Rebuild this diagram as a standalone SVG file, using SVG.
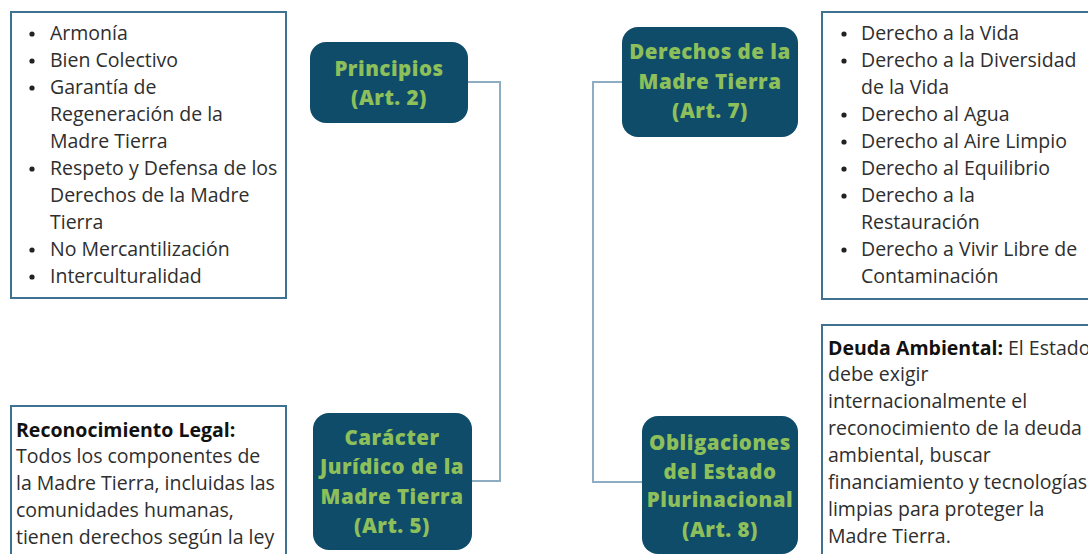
<svg xmlns="http://www.w3.org/2000/svg" width="1088" height="554" viewBox="0 0 1088 554">
<style>
.box{fill:#fff;stroke:#3f7191;stroke-width:2}
.node{fill:#0f4c69}
.nt{font-family:"Open Sans","Liberation Sans",sans-serif;font-weight:800;font-size:20.5px;letter-spacing:0.5px;fill:#8dbf5b;text-anchor:middle}
.t{font-family:"Open Sans","Liberation Sans",sans-serif;font-size:19.5px;fill:#2e2e2e}
.b{font-weight:700;fill:#111}
.dot{fill:#222}
.conn{fill:none;stroke:#8fadc2;stroke-width:2}
</style>
<rect width="1088" height="554" fill="#fff"/>
<g id="connectors">
<polyline class="conn" points="468,82 500,82 500,481 472,481"/>
<polyline class="conn" points="622,82 593,82 593,482 642,482"/>
</g>
<g id="principios-list">
<rect class="box" x="11" y="12" width="275" height="286"/>
<g class="dot">
<circle cx="32" cy="34" r="2.6"/><circle cx="32" cy="61" r="2.6"/><circle cx="32" cy="88" r="2.6"/>
<circle cx="32" cy="169" r="2.6"/><circle cx="32" cy="250" r="2.6"/><circle cx="32" cy="277" r="2.6"/>
</g>
<g class="t">
<text x="50" y="40">Armonía</text>
<text x="50" y="67">Bien Colectivo</text>
<text x="50" y="94">Garantía de</text>
<text x="50" y="121">Regeneración de la</text>
<text x="50" y="148">Madre Tierra</text>
<text x="50" y="175">Respeto y Defensa de los</text>
<text x="50" y="202">Derechos de la Madre</text>
<text x="50" y="229">Tierra</text>
<text x="50" y="256">No Mercantilización</text>
<text x="50" y="283">Interculturalidad</text>
</g>
</g>
<g id="principios">
<rect class="node" x="310" y="42" width="158" height="81" rx="16"/>
<text class="nt" x="389" y="76">Principios</text>
<text class="nt" x="389" y="105">(Art. 2)</text>
</g>
<g id="derechos">
<rect class="node" x="622" y="27" width="176" height="110" rx="16"/>
<text class="nt" x="710" y="59">Derechos de la</text>
<text class="nt" x="710" y="89">Madre Tierra</text>
<text class="nt" x="710" y="118">(Art. 7)</text>
</g>
<g id="derechos-list">
<rect class="box" x="822" y="12" width="270" height="287"/>
<g class="dot">
<circle cx="844" cy="34" r="2.6"/><circle cx="844" cy="61" r="2.6"/><circle cx="844" cy="115" r="2.6"/>
<circle cx="844" cy="142" r="2.6"/><circle cx="844" cy="169" r="2.6"/><circle cx="844" cy="196" r="2.6"/>
<circle cx="844" cy="250" r="2.6"/>
</g>
<g class="t">
<text x="861" y="40">Derecho a la Vida</text>
<text x="861" y="67">Derecho a la Diversidad</text>
<text x="861" y="94">de la Vida</text>
<text x="861" y="121">Derecho al Agua</text>
<text x="861" y="148">Derecho al Aire Limpio</text>
<text x="861" y="175">Derecho al Equilibrio</text>
<text x="861" y="202">Derecho a la</text>
<text x="861" y="229">Restauración</text>
<text x="861" y="256">Derecho a Vivir Libre de</text>
<text x="861" y="283">Contaminación</text>
</g>
</g>
<g id="reconocimiento">
<rect class="box" x="11" y="406" width="275" height="160"/>
<g class="t">
<text class="b" x="16" y="437">Reconocimiento Legal:</text>
<text x="16" y="463">Todos los componentes de</text>
<text x="16" y="490">la Madre Tierra, incluidas las</text>
<text x="16" y="517">comunidades humanas,</text>
<text x="16" y="544">tienen derechos según la ley</text>
</g>
</g>
<g id="caracter">
<rect class="node" x="313" y="413" width="159" height="137" rx="16"/>
<text class="nt" x="392" y="445">Carácter</text>
<text class="nt" x="392" y="474">Jurídico de la</text>
<text class="nt" x="392" y="504">Madre Tierra</text>
<text class="nt" x="392" y="533">(Art. 5)</text>
</g>
<g id="obligaciones">
<rect class="node" x="642" y="416" width="156" height="138" rx="16"/>
<text class="nt" x="720" y="450">Obligaciones</text>
<text class="nt" x="720" y="479">del Estado</text>
<text class="nt" x="720" y="507">Plurinacional</text>
<text class="nt" x="720" y="537">(Art. 8)</text>
</g>
<g id="deuda">
<rect class="box" x="822" y="325" width="270" height="240"/>
<g class="t">
<text x="828" y="355"><tspan class="b">Deuda Ambiental:</tspan> El Estado</text>
<text x="828" y="381">debe exigir</text>
<text x="828" y="408">internacionalmente el</text>
<text x="828" y="435">reconocimiento de la deuda</text>
<text x="828" y="462">ambiental, buscar</text>
<text x="828" y="489">financiamiento y tecnologías</text>
<text x="828" y="516">limpias para proteger la</text>
<text x="828" y="543">Madre Tierra.</text>
</g>
</g>
</svg>
